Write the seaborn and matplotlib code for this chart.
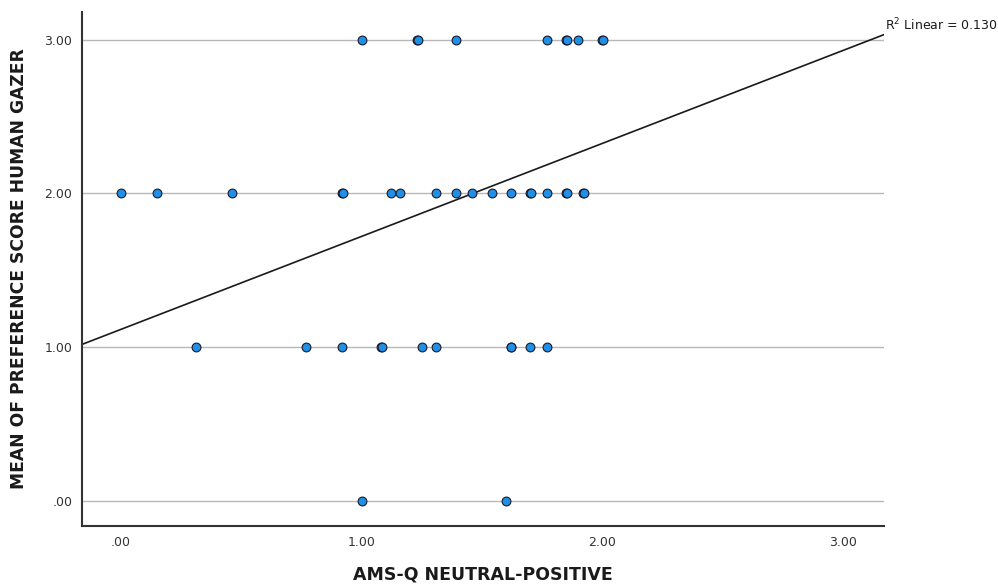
import numpy as np
import pandas as pd
import seaborn as sns
import matplotlib.pyplot as plt

# x values (AMS-Q neutral-positive) for each preference score row
x_score3 = [1.00, 1.23, 1.232, 1.39, 1.77, 1.85, 1.852, 1.90, 2.00, 2.002]
x_score2 = [0.00, 0.15, 0.46, 0.92, 0.922, 1.12, 1.16, 1.31, 1.39, 1.46, 1.54,
            1.62, 1.70, 1.702, 1.77, 1.85, 1.852, 1.92, 1.922]
x_score1 = [0.31, 0.77, 0.92, 1.08, 1.084, 1.25, 1.31, 1.62, 1.622, 1.70, 1.77]
x_score0 = [1.00, 1.60]

# linear fit
fit_intercept = 1.115
fit_slope = 0.605
r2_text = "R$^2$ Linear = 0.130"

x_ticks = [0, 1, 2, 3]
y_ticks = [0, 1, 2, 3]
tick_labels = [".00", "1.00", "2.00", "3.00"]

df = pd.DataFrame({
    "x": x_score3 + x_score2 + x_score1 + x_score0,
    "y": [3] * len(x_score3) + [2] * len(x_score2) + [1] * len(x_score1) + [0] * len(x_score0),
})

sns.set_style("white")
plt.rcParams['font.family'] = ['DejaVu Sans']

fig = plt.figure(figsize=(9.98, 5.85), dpi=100)
ax = fig.add_axes([0.0822, 0.1008, 0.8036, 0.8787])

# horizontal grid lines
for yt in y_ticks:
    ax.axhline(yt, color="#b8b8b8", lw=1.0, zorder=0)

xmin, xmax = -0.162, 3.17
ax.plot([xmin, xmax], [fit_intercept + fit_slope * xmin, fit_intercept + fit_slope * xmax],
        color="#1a1a1a", lw=1.2, zorder=2)

sns.scatterplot(data=df, x="x", y="y", ax=ax, s=40, color="#1e90e8",
                edgecolor="#1a1a2a", linewidth=0.8, zorder=3, legend=False)

ax.set_xlim(xmin, xmax)
ax.set_ylim(-0.165, 3.18)
ax.set_xticks(x_ticks)
ax.set_xticklabels(tick_labels)
ax.set_yticks(y_ticks)
ax.set_yticklabels(tick_labels)
ax.tick_params(axis="both", length=0, labelsize=9, labelcolor="#333333", pad=7)

for side in ["top", "right"]:
    ax.spines[side].set_visible(False)
for side in ["left", "bottom"]:
    ax.spines[side].set_color("#333333")
    ax.spines[side].set_linewidth(1.5)

ax.set_xlabel("AMS-Q NEUTRAL-POSITIVE", fontsize=12.5, fontweight="bold", color="#1a1a1a", labelpad=12)
ax.set_ylabel("MEAN OF PREFERENCE SCORE HUMAN GAZER", fontsize=12.3, fontweight="bold", color="#1a1a1a", labelpad=12)

fig.text(0.887, 0.958, r2_text, fontsize=9, color="#1a1a1a", va="center", ha="left")

fig.savefig("out.png", dpi=100)
